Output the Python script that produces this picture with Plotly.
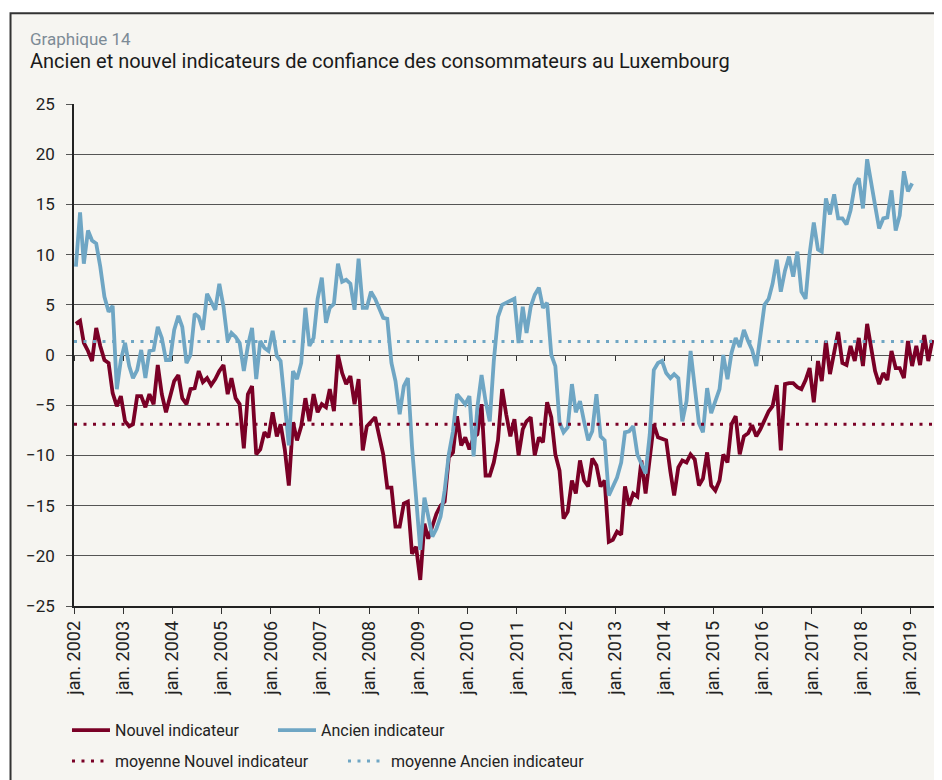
import plotly.graph_objects as go
import pandas as pd

# Monthly values (Jan 2002 onwards)
nouvel = [
    3.1, 3.4, 1.2, 0.4, -0.6, 2.7, 0.9, -0.5, -0.8, -3.8, -5.1, -4.1,
    -6.6, -7.1, -6.9, -4.1, -4.1, -5.2, -3.9, -4.9, -1.0, -3.9, -5.7, -4.3,
    -2.6, -2.0, -4.3, -4.9, -3.4, -3.3, -1.6, -2.7, -2.3, -3.0, -2.4, -1.6,
    -1.0, -3.9, -2.3, -4.3, -4.9, -9.3, -3.9, -3.1, -9.9, -9.4, -7.7, -8.2,
    -5.7, -8.1, -6.9, -9.4, -13.0, -6.7, -8.5, -7.1, -4.3, -6.6, -3.9, -5.7,
    -4.9, -5.2, -3.4, -5.6, 0.0, -1.8, -2.9, -2.1, -4.9, -2.4, -9.5, -7.1,
    -6.6, -6.2, -8.0, -9.9, -13.2, -13.2, -17.1, -17.1, -14.8, -14.6, -19.8, -19.1,
    -22.4, -16.8, -18.3, -17.1, -15.8, -15.0, -14.6, -10.2, -9.7, -6.1, -9.0, -8.2,
    -9.4, -8.2, -7.9, -4.9, -12.0, -12.0, -10.7, -8.5, -3.4, -5.9, -8.1, -6.4,
    -10.0, -7.4, -6.6, -6.2, -10.0, -8.2, -8.7, -4.7, -6.2, -9.9, -11.5, -16.3,
    -15.6, -12.5, -13.8, -10.5, -12.5, -13.1, -10.3, -11.0, -13.1, -12.5, -18.6, -18.4,
    -17.6, -17.9, -13.1, -15.0, -13.8, -14.1, -10.5, -13.8, -10.5, -6.9, -8.2, -8.3,
    -8.5, -11.6, -14.0, -11.2, -10.5, -10.7, -9.9, -10.4, -13.0, -12.3, -9.7, -13.0,
    -13.5, -12.5, -9.9, -10.7, -6.9, -6.1, -9.9, -8.1, -7.8, -7.0, -8.1, -7.4,
    -6.4, -5.6, -5.1, -3.0, -9.5, -2.9, -2.8, -2.8, -3.2, -3.4, -2.5, -1.3,
    -4.7, -0.6, -2.6, 1.4, -1.9, 0.4, 2.3, -0.8, -1.0, 0.9, -0.6, 1.7,
    -1.1, 3.1, 0.9, -1.6, -2.9, -1.8, -2.5, 0.4, -1.3, -1.3, -2.3, 1.4,
    -1.1, 0.9, -1.0, 2.0, -0.6, 1.5,
]

ancien = [
    8.8, 14.2, 9.1, 12.4, 11.4, 11.1, 8.8, 5.8, 4.3, 4.9, -3.4, -0.5,
    1.2, -1.1, -2.3, -1.5, 0.5, -2.3, 0.4, 0.5, 2.8, 1.7, -0.5, -0.5,
    2.5, 3.9, 2.8, -0.8, 0.0, 4.1, 3.8, 2.5, 6.1, 5.3, 4.5, 7.1,
    4.8, 1.4, 2.2, 1.8, 1.2, -1.6, 0.9, 2.7, -2.4, 1.4, 0.7, 0.4,
    2.4, -0.1, -0.6, -4.8, -9.0, -1.6, -2.4, -0.8, 4.7, 0.9, 1.7, 5.6,
    7.7, 3.2, 4.7, 5.1, 9.1, 7.3, 7.5, 7.1, 4.5, 9.6, 4.7, 4.7,
    6.3, 5.6, 4.6, 3.7, 3.6, -0.8, -2.6, -5.9, -3.1, -2.3, -9.2, -14.5,
    -19.4, -14.2, -16.1, -18.1, -17.3, -16.1, -13.5, -9.9, -7.6, -3.9, -4.4, -4.9,
    -4.1, -10.1, -5.2, -2.0, -4.6, -6.6, -0.6, 3.8, 5.0, 5.2, 5.5, 5.6,
    1.2, 4.8, 2.2, 4.8, 6.0, 6.7, 4.7, 5.2, 0.0, -1.1, -6.7, -7.7,
    -7.2, -2.9, -5.7, -4.6, -6.6, -8.5, -7.6, -3.9, -8.1, -8.5, -14.0, -13.2,
    -12.2, -10.7, -7.7, -7.6, -7.1, -9.9, -10.9, -11.8, -7.9, -1.5, -0.8, -0.6,
    -1.8, -2.3, -1.9, -2.3, -6.6, -4.6, 0.4, -3.3, -6.8, -7.7, -3.3, -5.8,
    -4.6, -3.4, 0.0, -2.4, 0.2, 1.7, 0.8, 2.5, 1.4, 0.5, -1.1, 1.7,
    5.0, 5.6, 7.1, 9.5, 6.3, 8.4, 9.8, 7.8, 10.3, 6.3, 5.6, 10.1,
    13.2, 10.5, 10.3, 15.6, 14.0, 16.0, 13.6, 13.6, 13.0, 14.4, 16.9, 17.6,
    14.6, 19.5, 17.5, 14.9, 12.6, 13.6, 13.7, 16.4, 12.4, 13.9, 18.3, 16.3,
    17.1,
]

moyenne_nouvel = -6.9
moyenne_ancien = 1.35

years = list(range(2002, 2020))
tick_vals = [f"{y}-01-01" for y in years]
tick_text = [f"jan. {y}" for y in years]

x_start = "2002-01-01"
x_end = "2019-08-10"

dates_n = pd.date_range("2002-01-01", periods=len(nouvel), freq="MS") + pd.Timedelta(days=14)
dates_a = pd.date_range("2002-01-01", periods=len(ancien), freq="MS") + pd.Timedelta(days=14)

RED = "#7a0026"
BLUE = "#6fa6c4"
BG = "#f6f5f1"
GRID = "#555555"
FONT = "Roboto"
TXT = "#222222"

fig = go.Figure()
fig.add_trace(go.Scatter(x=dates_n, y=nouvel, mode="lines", name="Nouvel indicateur",
                         line=dict(color=RED, width=3.8), legend="legend"))
fig.add_trace(go.Scatter(x=dates_a, y=ancien, mode="lines", name="Ancien indicateur",
                         line=dict(color=BLUE, width=3.8), legend="legend"))
fig.add_trace(go.Scatter(x=[x_start, x_end], y=[moyenne_nouvel, moyenne_nouvel], mode="lines",
                         name="moyenne Nouvel indicateur", xaxis="x2",
                         line=dict(color=RED, width=3, dash="3px,6.5px"), legend="legend2"))
fig.add_trace(go.Scatter(x=[x_start, x_end], y=[moyenne_ancien, moyenne_ancien], mode="lines",
                         name="moyenne Ancien indicateur", xaxis="x2",
                         line=dict(color=BLUE, width=3, dash="3px,6.5px"), legend="legend2"))

legend_common = dict(orientation="h", xanchor="left", yanchor="middle",
                     font=dict(family=FONT, size=16, color=TXT),
                     bgcolor="rgba(0,0,0,0)", itemwidth=38, entrywidthmode="pixels",
                     tracegroupgap=0)

# The page adds an 8px body margin, so the figure is 934x772 and sits at (8, 8).
fig.update_layout(
    width=934, height=772,
    margin=dict(l=66, r=2, t=96, b=171),
    paper_bgcolor="white",
    plot_bgcolor=BG,
    font=dict(family=FONT, size=17, color=TXT),
    showlegend=True,
    legend=dict(**legend_common, x=-0.0081, y=-0.2476, entrywidth=153),
    legend2=dict(**legend_common, x=-0.0081, y=-0.309, entrywidth=223),
    xaxis=dict(type="date", range=[x_start, x_end], tickmode="array",
               tickvals=tick_vals, ticktext=tick_text, tickangle=-90,
               ticks="outside", ticklen=6, tickcolor="#333", tickwidth=1.2,
               showline=True, linecolor="#222", linewidth=1.5,
               showgrid=False, zeroline=False,
               tickfont=dict(family=FONT, size=18, color=TXT)),
    xaxis2=dict(type="date", range=[x_start, x_end], overlaying="x", anchor="free",
                position=0.5, side="bottom", tickmode="array", tickvals=tick_vals,
                ticks="outside", ticklen=5, tickcolor="#333", tickwidth=1.2,
                showticklabels=False, showgrid=False, showline=False, zeroline=False),
    yaxis=dict(range=[-25, 25], dtick=5, tick0=0, ticks="outside", ticklen=6,
               tickcolor=GRID, tickwidth=1.2, showgrid=True, gridcolor=GRID, gridwidth=1.3,
               showline=True, linecolor="#222", linewidth=1.5, zeroline=False,
               ticklabelstandoff=8,
               tickfont=dict(family=FONT, size=17, color=TXT)),
    shapes=[dict(type="rect", xref="paper", yref="paper", x0=-0.0733, x1=1.05,
                 y0=-0.45, y1=1.1807, line=dict(color="#333333", width=2),
                 fillcolor=BG, layer="below")],
    annotations=[
        dict(text="Graphique 14", xref="paper", yref="paper", x=-0.0531, y=1.1287,
             xanchor="left", yanchor="middle", showarrow=False,
             font=dict(family=FONT, size=17, color="#7d8b96")),
        dict(text="Ancien et nouvel indicateurs de confiance des consommateurs au Luxembourg",
             xref="paper", yref="paper", x=-0.0531, y=1.0851,
             xanchor="left", yanchor="middle", showarrow=False,
             font=dict(family=FONT, size=20, color="#1a1a1a")),
    ],
)

fig.write_html("out.html")
